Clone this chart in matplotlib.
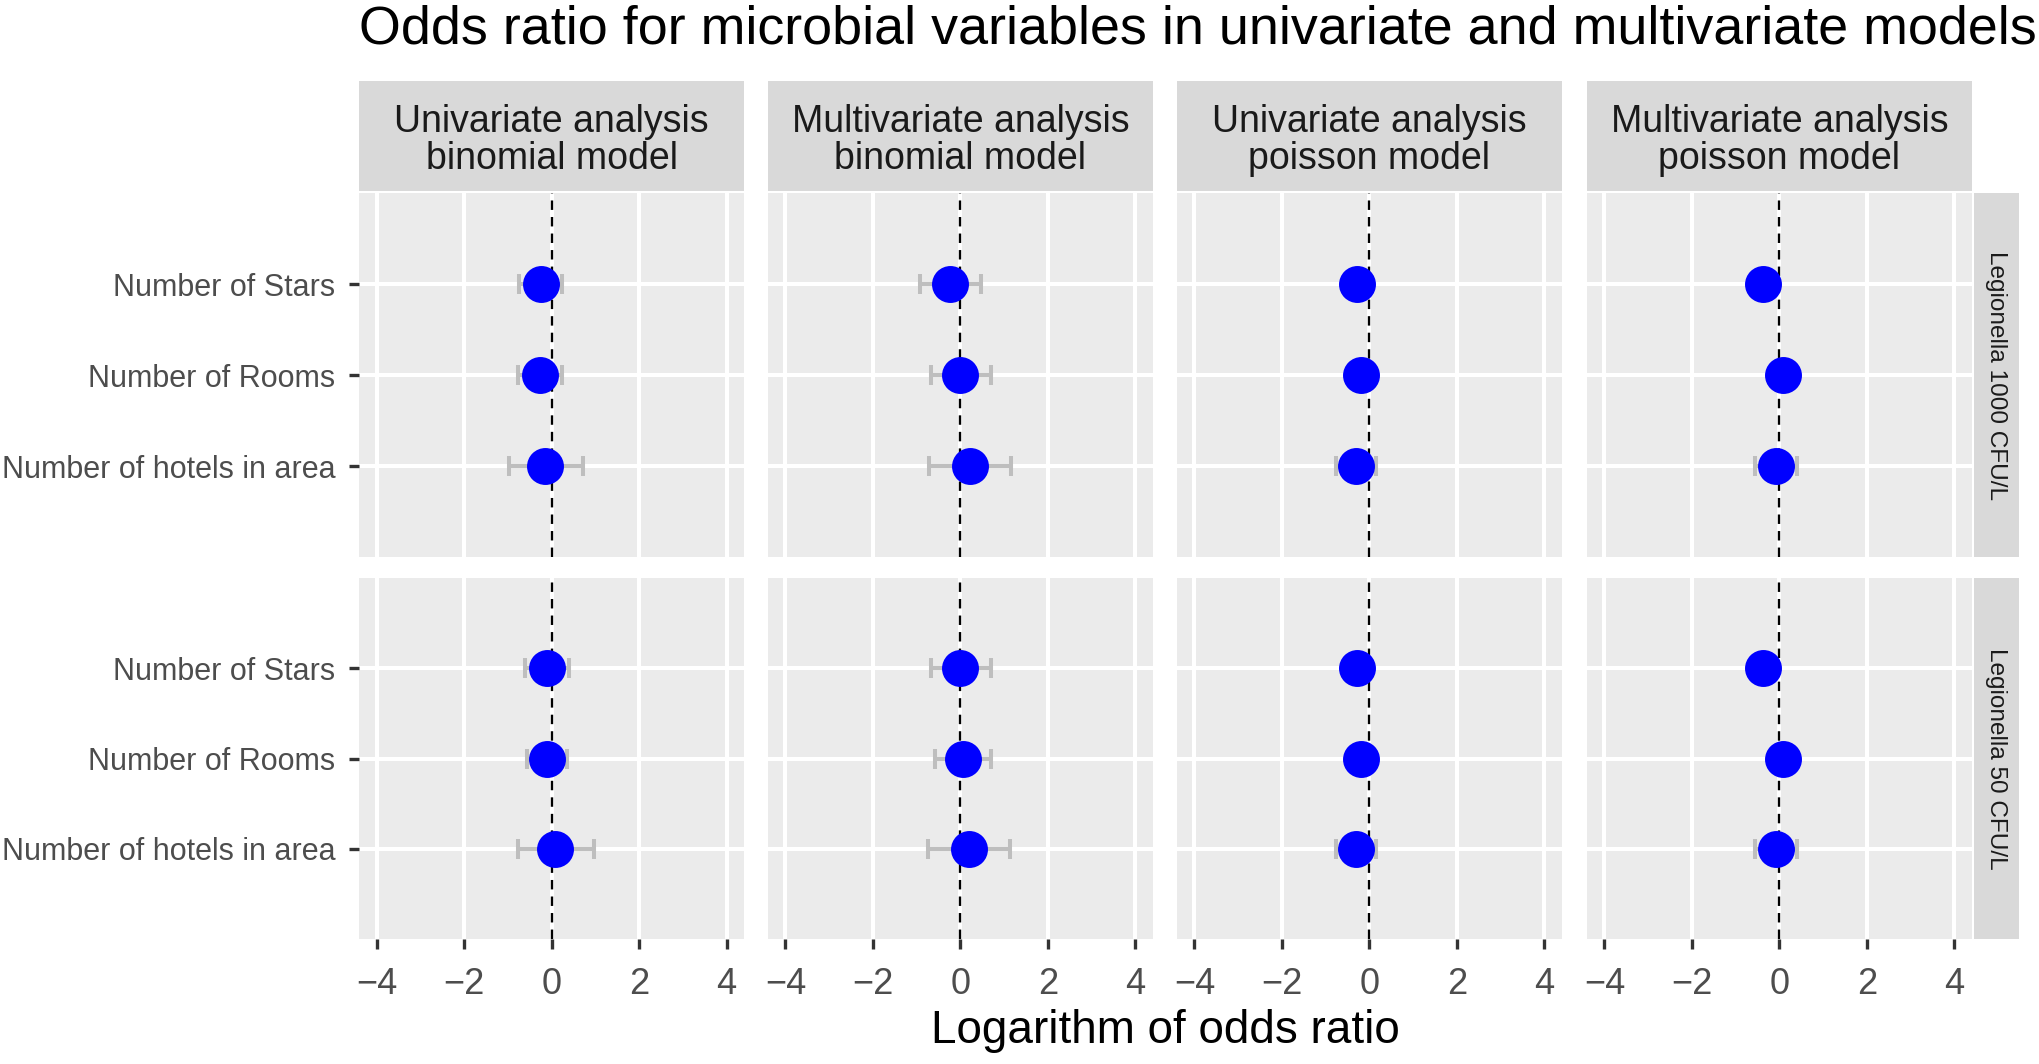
import matplotlib
matplotlib.use("Agg")
import matplotlib.pyplot as plt
import numpy as np

plt.rcParams['font.family'] = ['Liberation Sans', 'DejaVu Sans']

# data
variables = ["Number of Stars", "Number of Rooms", "Number of hotels in area"]
models = ["Univariate analysis\nbinomial model",
          "Multivariate analysis\nbinomial model",
          "Univariate analysis\npoisson model",
          "Multivariate analysis\npoisson model"]
outcomes = ["Legionella 1000 CFU/L", "Legionella 50 CFU/L"]

# one inner list per model, values per variable
est_1000 = [[-0.25, -0.27, -0.14],
            [-0.24, -0.01, 0.21],
            [-0.29, -0.19, -0.31],
            [-0.37, 0.08, -0.08]]
low_1000 = [[-0.75, -0.77, -0.98],
            [-0.93, -0.67, -0.73],
            [-0.39, -0.29, -0.76],
            [-0.47, -0.02, -0.57]]
high_1000 = [[0.23, 0.23, 0.72],
             [0.47, 0.70, 1.15],
             [-0.19, -0.09, 0.14],
             [-0.27, 0.18, 0.39]]

est_50 = [[-0.10, -0.10, 0.09],
          [0.00, 0.05, 0.20],
          [-0.29, -0.19, -0.31],
          [-0.37, 0.08, -0.08]]
low_50 = [[-0.60, -0.57, -0.77],
          [-0.67, -0.58, -0.74],
          [-0.39, -0.29, -0.76],
          [-0.47, -0.02, -0.57]]
high_50 = [[0.40, 0.35, 0.96],
           [0.70, 0.70, 1.13],
           [-0.19, -0.09, 0.14],
           [-0.27, 0.18, 0.39]]

x_ticks = [-4, -2, 0, 2, 4]

W, H = 2040, 1064
fig = plt.figure(figsize=(W / 100, H / 100), dpi=100)


def fx(px):
    return px / W


def fy(py):
    return 1 - py / H


col_left = [359, 768, 1177, 1587]
col_w = 385
row_top = [193, 578]
row_bot = [557, 939]

rows = [(est_1000, low_1000, high_1000), (est_50, low_50, high_50)]
ypos = np.arange(1, len(variables) + 1)

for r, (est_all, low_all, high_all) in enumerate(rows):
    for c in range(len(models)):
        ax = fig.add_axes([fx(col_left[c]), fy(row_bot[r]), col_w / W,
                           (row_bot[r] - row_top[r]) / H])
        ax.set_facecolor('#EBEBEB')
        for s in ax.spines.values():
            s.set_visible(False)
        ax.set_xlim(-4.4, 4.4)
        ax.set_ylim(len(variables) + 1, 0)
        ax.set_xticks(x_ticks)
        ax.set_xticklabels([str(t).replace('-', '\u2212') for t in x_ticks])
        ax.set_yticks(ypos)
        ax.set_yticklabels(variables)
        ax.grid(True, color='white', lw=2.9)
        ax.set_axisbelow(True)
        ax.tick_params(axis='both', length=7, width=2.4, color='#333333',
                       labelcolor='#4D4D4D')
        ax.tick_params(axis='y', pad=10, labelsize=22)
        ax.tick_params(axis='x', pad=13, labelsize=26)
        if c != 0:
            ax.tick_params(axis='y', length=0, labelleft=False)
        if r != len(rows) - 1:
            ax.tick_params(axis='x', length=0, labelbottom=False)

        est = np.array(est_all[c])
        lo = np.array(low_all[c])
        hi = np.array(high_all[c])
        ax.axvline(0, color='black', lw=1.7, ls=(0, (4, 3)), zorder=2)
        ax.errorbar(est, ypos, xerr=[est - lo, hi - est], fmt='none',
                    ecolor='#BEBEBE', elinewidth=2.9, capsize=7, capthick=2.9,
                    zorder=3)
        ax.plot(est, ypos, 'o', color='#0000FF', ms=26.6, mec='none', zorder=4)

# top strips
for c, m in enumerate(models):
    sax = fig.add_axes([fx(col_left[c]), fy(191), col_w / W, (191 - 81) / H])
    sax.set_facecolor('#D9D9D9')
    sax.set_xticks([])
    sax.set_yticks([])
    for s in sax.spines.values():
        s.set_visible(False)
    sax.text(0.5, 0.46, m, ha='center', va='center', fontsize=27,
             color='#1A1A1A', linespacing=1.05, transform=sax.transAxes)

# right strips
for r, o in enumerate(outcomes):
    sax = fig.add_axes([fx(1974), fy(row_bot[r]), 45 / W,
                        (row_bot[r] - row_top[r]) / H])
    sax.set_facecolor('#D9D9D9')
    sax.set_xticks([])
    sax.set_yticks([])
    for s in sax.spines.values():
        s.set_visible(False)
    sax.text(0.5, 0.5, o, ha='center', va='center', fontsize=17.6,
             rotation=-90, color='#1A1A1A', transform=sax.transAxes)

fig.text(fx(359), fy(30), "Odds ratio for microbial variables in univariate and multivariate models",
         ha='left', va='center', fontsize=38.8)
fig.text(fx(1165), fy(1031), "Logarithm of odds ratio", ha='center', va='center',
         fontsize=33)

fig.savefig('out.png', dpi=100)
